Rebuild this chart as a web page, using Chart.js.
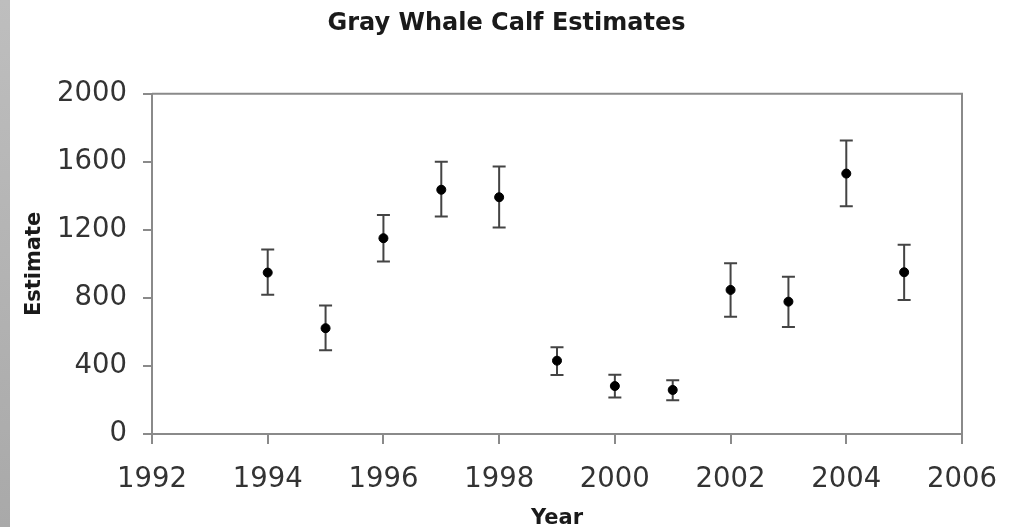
<!DOCTYPE html>
<html>
<head>
<meta charset="utf-8">
<script src="https://cdn.jsdelivr.net/npm/chart.js@4.4.1/dist/chart.umd.min.js"></script>
<style>
  html, body { margin: 0; padding: 0; background: #ffffff; }
  #wrap { position: relative; width: 1013px; height: 527px; overflow: hidden; background: #ffffff; }
  #strip { position: absolute; left: 0; top: 0; width: 10px; height: 527px;
           background: linear-gradient(to bottom, #bebebe, #a9a9a9); }
  canvas { position: absolute; left: 0; top: 0; }
</style>
</head>
<body>
<div id="wrap">
  <div id="strip"></div>
  <canvas id="c" width="1013" height="527"></canvas>
</div>
<script>
// Gray whale calf estimates with upper/lower bounds
const years    = [1994, 1995, 1996, 1997, 1998, 1999, 2000, 2001, 2002, 2003, 2004, 2005];
const estimate = [949, 622, 1151, 1436, 1392, 431, 282, 259, 847, 778, 1531, 951];
const upper    = [1084, 755, 1288, 1601, 1573, 510, 349, 316, 1004, 925, 1725, 1112];
const lower    = [818, 492, 1014, 1278, 1214, 347, 214, 198, 689, 629, 1339, 788];

const xTicks = [1992, 1994, 1996, 1998, 2000, 2002, 2004, 2006];
const yTicks = [0, 400, 800, 1200, 1600, 2000];

const axisGray = '#8a8a8a';
const textGray = '#333333';

// Error bars and the frame around the plot area
const errorBars = {
  id: 'errorBars',
  beforeDatasetsDraw(chart) {
    const { ctx, chartArea: a, scales: { x, y } } = chart;
    ctx.save();
    // right and top frame lines
    ctx.strokeStyle = axisGray;
    ctx.lineWidth = 2;
    ctx.beginPath();
    ctx.moveTo(a.left, a.top);
    ctx.lineTo(a.right, a.top);
    ctx.lineTo(a.right, a.bottom);
    ctx.stroke();
    // whiskers
    ctx.strokeStyle = '#444444';
    ctx.lineWidth = 2;
    const cap = 6.5;
    years.forEach((yr, i) => {
      const px = x.getPixelForValue(yr);
      const pt = y.getPixelForValue(upper[i]);
      const pb = y.getPixelForValue(lower[i]);
      ctx.beginPath();
      ctx.moveTo(px, pt); ctx.lineTo(px, pb);
      ctx.moveTo(px - cap, pt); ctx.lineTo(px + cap, pt);
      ctx.moveTo(px - cap, pb); ctx.lineTo(px + cap, pb);
      ctx.stroke();
    });
    ctx.restore();
  }
};

new Chart(document.getElementById('c'), {
  type: 'scatter',
  data: {
    datasets: [{
      label: 'Estimate',
      data: years.map((yr, i) => ({ x: yr, y: estimate[i] })),
      backgroundColor: '#000000',
      borderColor: '#000000',
      pointRadius: 4.5,
      pointHoverRadius: 4.5
    }]
  },
  options: {
    responsive: false,
    animation: false,
    devicePixelRatio: 1,
    layout: { padding: 0 },
    plugins: {
      legend: { display: false },
      tooltip: { enabled: false },
      title: {
        display: true,
        text: 'Gray Whale Calf Estimates',
        color: '#1a1a1a',
        font: { family: 'DejaVu Sans', size: 24, weight: 'bold' },
        padding: { top: 9, bottom: 56 }
      }
    },
    scales: {
      x: {
        type: 'linear',
        min: 1992,
        max: 2006,
        afterBuildTicks(s) { s.ticks = xTicks.map(v => ({ value: v })); },
        afterFit(s) { s.height = 93; s.paddingLeft = 0; s.paddingRight = 0; },
        border: { display: true, color: axisGray, width: 2 },
        grid: { drawOnChartArea: false, drawTicks: true, tickLength: 10, color: axisGray, lineWidth: 2 },
        ticks: {
          color: textGray,
          font: { family: 'DejaVu Sans', size: 27.5 },
          padding: 19,
          maxRotation: 0,
          callback: v => String(v)
        },
        title: {
          display: true,
          text: 'Year',
          color: '#1a1a1a',
          font: { family: 'DejaVu Sans', size: 21, weight: 'bold' },
          padding: { top: 0, bottom: -4 }
        }
      },
      y: {
        min: 0,
        max: 2000,
        afterBuildTicks(s) { s.ticks = yTicks.map(v => ({ value: v })); },
        afterFit(s) { s.width = 152; },
        border: { display: true, color: axisGray, width: 2 },
        grid: { drawOnChartArea: false, drawTicks: true, tickLength: 9, color: axisGray, lineWidth: 2 },
        ticks: {
          color: textGray,
          font: { family: 'DejaVu Sans', size: 27.5 },
          padding: 16,
          callback: v => String(v)
        },
        title: {
          display: true,
          text: 'Estimate',
          color: '#1a1a1a',
          font: { family: 'DejaVu Sans', size: 21, weight: 'bold' },
          padding: { top: 22, bottom: 0 }
        }
      },
      // empty right-hand axis that keeps the margin beside the plot
      yRight: {
        position: 'right',
        display: true,
        min: 0,
        max: 2000,
        afterFit(s) { s.width = 51; },
        border: { display: false },
        grid: { display: false },
        ticks: { display: false }
      }
    }
  },
  plugins: [errorBars]
});
</script>
</body>
</html>
